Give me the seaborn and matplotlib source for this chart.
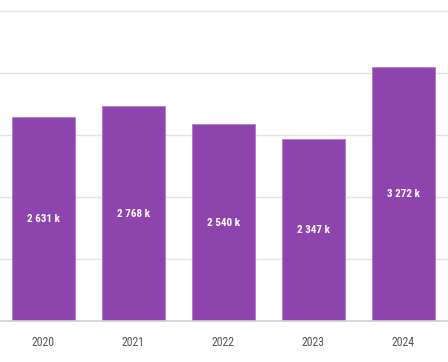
import matplotlib
matplotlib.use("Agg")
import matplotlib.pyplot as plt
import seaborn as sns
import pandas as pd

years = ["2020", "2021", "2022", "2023", "2024"]
values = [2631, 2768, 2540, 2347, 3272]
labels = ["2 631 k", "2 768 k", "2 540 k", "2 347 k", "3 272 k"]
grid_vals = [0, 800, 1600, 2400, 3200, 4000]

sns.set_theme(style="white")
plt.rcParams["font.family"] = ["Roboto Condensed", "DejaVu Sans"]

df = pd.DataFrame({"year": years, "value": values})

fig = plt.figure(figsize=(4.48, 3.62), dpi=100)
ax = fig.add_axes([0, 41 / 362, 1, 321 / 362])
sns.barplot(data=df, x="year", y="value", color="#8E44AD", saturation=1,
            width=0.7, ax=ax, edgecolor="#B47ACB", linewidth=0.6)

ax.set_xlim(-0.478, 4.5)
ax.set_ylim(0, 4142)
ax.set_yticks(grid_vals)
ax.yaxis.grid(True, color="#e3e3e3", linewidth=1)
ax.set_axisbelow(True)
ax.set_yticklabels([])
ax.tick_params(axis="y", length=0)
for s in ["top", "right", "left"]:
    ax.spines[s].set_visible(False)
ax.spines["bottom"].set_color("#d0d0d0")
ax.spines["bottom"].set_linewidth(1.2)
ax.set_xlabel("")
ax.set_ylabel("")
ax.tick_params(axis="x", which="major", length=0, pad=11, labelsize=8.5, labelcolor="#555555")
ax.set_xticks([0.5, 1.5, 2.5, 3.5], minor=True)
ax.tick_params(axis="x", which="minor", length=5, color="#d0d0d0", width=1)

for i, (v, lab) in enumerate(zip(values, labels)):
    ax.text(i, v / 2, lab, ha="center", va="center", color="white",
            fontsize=8, fontweight="bold")

fig.savefig("out.png", dpi=100)
